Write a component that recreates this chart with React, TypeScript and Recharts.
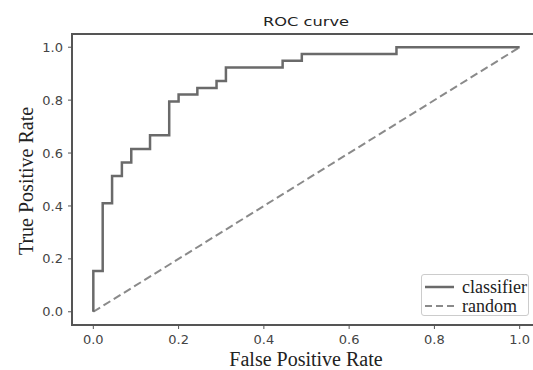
import React from 'react';
import {
  Legend,
  Line,
  LineChart,
  ReferenceArea,
  XAxis,
  YAxis,
} from 'recharts';

// ROC points (corners of the step curve)
const fpr = [
  0, 0, 0.022, 0.022, 0.044, 0.044, 0.067, 0.067, 0.089, 0.089, 0.133, 0.133,
  0.178, 0.178, 0.2, 0.2, 0.244, 0.244, 0.289, 0.289, 0.311, 0.311, 0.444,
  0.444, 0.489, 0.489, 0.711, 0.711, 1.0,
];
const tpr = [
  0, 0.154, 0.154, 0.41, 0.41, 0.513, 0.513, 0.564, 0.564, 0.615, 0.615,
  0.667, 0.667, 0.795, 0.795, 0.821, 0.821, 0.846, 0.846, 0.872, 0.872, 0.923,
  0.923, 0.949, 0.949, 0.974, 0.974, 1.0, 1.0,
];
const randomFpr = [0, 1];
const randomTpr = [0, 1];
const axisTicks = [0, 0.2, 0.4, 0.6, 0.8, 1.0];

const classifierData = fpr.map((x, i) => ({ fpr: x, tpr: tpr[i] }));
const randomData = randomFpr.map((x, i) => ({ fpr: x, tpr: randomTpr[i] }));

const serif = '"Liberation Serif", "DejaVu Serif", serif';
const sans = '"DejaVu Sans", sans-serif';

const tickStyle = { fontSize: 13, fill: '#444', fontFamily: sans };

const LegendBox = () => (
  <div
    style={{
      border: '1px solid #ccc',
      borderRadius: 3,
      background: '#fff',
      width: 108,
      height: 42,
      boxSizing: 'border-box',
      fontFamily: serif,
      fontSize: 18,
      color: '#222',
      lineHeight: '18px',
      padding: '2px 0 0 3px',
    }}
  >
    <div style={{ display: 'flex', alignItems: 'center', height: 19 }}>
      <svg width={30} height={10} style={{ marginRight: 7 }}>
        <line x1={0} y1={5} x2={29} y2={5} stroke="#6a6a6a" strokeWidth={2.5} />
      </svg>
      classifier
    </div>
    <div style={{ display: 'flex', alignItems: 'center', height: 19 }}>
      <svg width={30} height={10} style={{ marginRight: 7 }}>
        <line
          x1={0}
          y1={5}
          x2={29}
          y2={5}
          stroke="#8a8a8a"
          strokeWidth={2}
          strokeDasharray="7 4"
        />
      </svg>
      random
    </div>
  </div>
);

export default function App() {
  return (
    <div
      style={{
        position: 'absolute',
        left: 0,
        top: 0,
        width: 533,
        height: 370,
        overflow: 'hidden',
        background: '#fff',
      }}
    >
      <div
        style={{
          position: 'absolute',
          left: 306,
          top: 14,
          transform: 'translateX(-50%) scaleX(1.25)',
          fontFamily: sans,
          fontSize: 13,
          color: '#222',
          whiteSpace: 'nowrap',
        }}
      >
        ROC curve
      </div>
      <LineChart
        width={560}
        height={370}
        margin={{ top: 34, right: 19, left: 0, bottom: 0 }}
      >
        <XAxis
          dataKey="fpr"
          type="number"
          domain={[-0.05, 1.05]}
          ticks={axisTicks}
          tickFormatter={(v: number) => v.toFixed(1)}
          allowDataOverflow
          height={45}
          axisLine={false}
          tickLine={{ stroke: '#555' }}
          tickSize={4}
          tick={tickStyle}
          tickMargin={6}
          label={(props: any) => (
            <text
              x={306}
              y={366}
              textAnchor="middle"
              fontFamily={serif}
              fontSize={20}
              fill="#222"
            >
              False Positive Rate
            </text>
          )}
        />
        <YAxis
          dataKey="tpr"
          type="number"
          domain={[-0.05, 1.05]}
          ticks={axisTicks}
          tickFormatter={(v: number) => v.toFixed(1)}
          allowDataOverflow
          width={72}
          axisLine={false}
          tickLine={{ stroke: '#555' }}
          tickSize={4}
          tick={tickStyle}
          tickMargin={5}
          label={(props: any) => (
            <text
              x={33}
              y={181}
              textAnchor="middle"
              transform="rotate(-90 33 181)"
              fontFamily={serif}
              fontSize={20}
              fill="#222"
            >
              True Positive Rate
            </text>
          )}
        />
        <ReferenceArea
          x1={-0.05}
          x2={1.05}
          y1={-0.05}
          y2={1.05}
          fill="none"
          stroke="#555"
          strokeWidth={2}
          ifOverflow="visible"
        />
        <Line
          data={randomData}
          dataKey="tpr"
          name="random"
          type="linear"
          stroke="#8a8a8a"
          strokeWidth={2}
          strokeDasharray="8 4"
          dot={false}
          activeDot={false}
          isAnimationActive={false}
        />
        <Line
          data={classifierData}
          dataKey="tpr"
          name="classifier"
          type="linear"
          stroke="#6a6a6a"
          strokeWidth={2.5}
          dot={false}
          activeDot={false}
          isAnimationActive={false}
        />
        <Legend
          layout="vertical"
          align="center"
          verticalAlign="middle"
          wrapperStyle={{ left: 421, top: 274, width: 112 }}
          content={() => <LegendBox />}
        />
      </LineChart>
    </div>
  );
}
